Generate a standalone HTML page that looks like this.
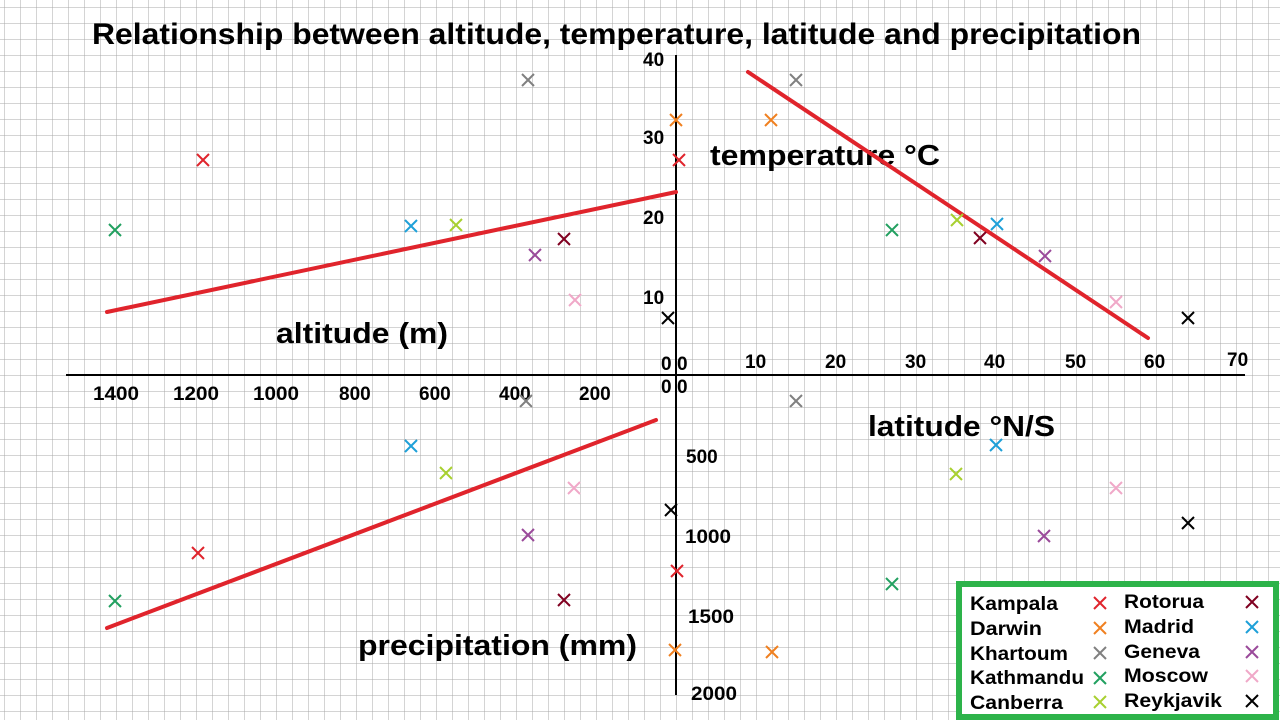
<!DOCTYPE html>
<html><head><meta charset="utf-8"><style>
html,body{margin:0;padding:0;background:#fff}
svg{display:block}
text{font-family:"Liberation Sans",Arial,sans-serif;font-weight:bold;fill:#000}
</style></head><body>
<svg width="1280" height="720" viewBox="0 0 1280 720" xmlns="http://www.w3.org/2000/svg">
<defs>
<pattern id="g" x="4" y="7" width="16" height="16" patternUnits="userSpaceOnUse">
<path d="M0 0H16M0 0V16" stroke="#a8a8a8" stroke-width="1" fill="none"/>
</pattern>
<g id="x"><path d="M-6 -6L6 6M6 -6L-6 6" stroke-width="2" fill="none"/></g>
</defs>
<rect width="1280" height="720" fill="url(#g)"/>
<text x="92" y="44" font-size="30" textLength="1049" lengthAdjust="spacingAndGlyphs">Relationship between altitude, temperature, latitude and precipitation</text>
<line x1="66" y1="375" x2="1245" y2="375" stroke="#000" stroke-width="2"/>
<line x1="676" y1="55" x2="676" y2="695" stroke="#000" stroke-width="2"/>
<g font-size="19">
<text x="643" y="66">40</text><text x="643" y="144">30</text><text x="643" y="224">20</text><text x="643" y="304">10</text>
<text x="661" y="370">0</text><text x="677" y="370">0</text>
<text x="745" y="368">10</text><text x="825" y="368">20</text><text x="905" y="368">30</text><text x="984" y="368">40</text><text x="1065" y="368">50</text><text x="1144" y="368">60</text><text x="1227" y="366">70</text>
<text x="93" y="400" textLength="46" lengthAdjust="spacingAndGlyphs">1400</text><text x="173" y="400" textLength="46" lengthAdjust="spacingAndGlyphs">1200</text><text x="253" y="400" textLength="46" lengthAdjust="spacingAndGlyphs">1000</text><text x="339" y="400">800</text><text x="419" y="400">600</text><text x="499" y="400">400</text><text x="579" y="400">200</text>
<text x="661" y="393">0</text><text x="677" y="393">0</text>
<text x="686" y="463">500</text><text x="685" y="543" textLength="46" lengthAdjust="spacingAndGlyphs">1000</text><text x="688" y="623" textLength="46" lengthAdjust="spacingAndGlyphs">1500</text><text x="691" y="700" textLength="46" lengthAdjust="spacingAndGlyphs">2000</text>
</g>
<g font-size="29">
<text x="710" y="165" textLength="230" lengthAdjust="spacingAndGlyphs">temperature °C</text>
<text x="276" y="343" textLength="172" lengthAdjust="spacingAndGlyphs">altitude (m)</text>
<text x="868" y="436" textLength="187" lengthAdjust="spacingAndGlyphs">latitude °N/S</text>
<text x="358" y="655" textLength="279" lengthAdjust="spacingAndGlyphs">precipitation (mm)</text>
</g>
<g stroke="#e0242c" stroke-width="4" stroke-linecap="round">
<line x1="107" y1="312" x2="676" y2="192"/>
<line x1="748" y1="72" x2="1148" y2="338"/>
<line x1="107" y1="628" x2="656" y2="420"/>
</g>
<g>
<use href="#x" x="203" y="160" stroke="#e0242c"/><use href="#x" x="115" y="230" stroke="#22a060"/><use href="#x" x="411" y="226" stroke="#1ea0d8"/><use href="#x" x="456" y="225" stroke="#a8d030"/><use href="#x" x="528" y="80" stroke="#808080"/><use href="#x" x="535" y="255" stroke="#9a4a9a"/><use href="#x" x="564" y="239" stroke="#800020"/><use href="#x" x="575" y="300" stroke="#f0a8c8"/><use href="#x" x="676" y="120" stroke="#f08020"/><use href="#x" x="679" y="160" stroke="#e0242c"/><use href="#x" x="668" y="318" stroke="#000"/>
<use href="#x" x="796" y="80" stroke="#808080"/><use href="#x" x="771" y="120" stroke="#f08020"/><use href="#x" x="892" y="230" stroke="#22a060"/><use href="#x" x="957" y="220" stroke="#a8d030"/><use href="#x" x="980" y="238" stroke="#800020"/><use href="#x" x="997" y="224" stroke="#1ea0d8"/><use href="#x" x="1045" y="256" stroke="#9a4a9a"/><use href="#x" x="1116" y="302" stroke="#f0a8c8"/><use href="#x" x="1188" y="318" stroke="#000"/>
<use href="#x" x="526" y="401" stroke="#808080"/><use href="#x" x="411" y="446" stroke="#1ea0d8"/><use href="#x" x="446" y="473" stroke="#a8d030"/><use href="#x" x="574" y="488" stroke="#f0a8c8"/><use href="#x" x="528" y="535" stroke="#9a4a9a"/><use href="#x" x="198" y="553" stroke="#e0242c"/><use href="#x" x="115" y="601" stroke="#22a060"/><use href="#x" x="564" y="600" stroke="#800020"/><use href="#x" x="671" y="510" stroke="#000"/><use href="#x" x="677" y="571" stroke="#e0242c"/><use href="#x" x="675" y="650" stroke="#f08020"/>
<use href="#x" x="796" y="401" stroke="#808080"/><use href="#x" x="996" y="445" stroke="#1ea0d8"/><use href="#x" x="956" y="474" stroke="#a8d030"/><use href="#x" x="1116" y="488" stroke="#f0a8c8"/><use href="#x" x="1044" y="536" stroke="#9a4a9a"/><use href="#x" x="1188" y="523" stroke="#000"/><use href="#x" x="892" y="584" stroke="#22a060"/><use href="#x" x="772" y="652" stroke="#f08020"/>
</g>
<rect x="959" y="584" width="317" height="133" fill="#fff" stroke="#2db34a" stroke-width="6"/>
<g font-size="19">
<text x="970" y="610" textLength="88" lengthAdjust="spacingAndGlyphs">Kampala</text><text x="970" y="635" textLength="72" lengthAdjust="spacingAndGlyphs">Darwin</text><text x="970" y="660" textLength="98" lengthAdjust="spacingAndGlyphs">Khartoum</text><text x="970" y="684" textLength="114" lengthAdjust="spacingAndGlyphs">Kathmandu</text><text x="970" y="709" textLength="93" lengthAdjust="spacingAndGlyphs">Canberra</text>
<text x="1124" y="608" textLength="80" lengthAdjust="spacingAndGlyphs">Rotorua</text><text x="1124" y="633" textLength="70" lengthAdjust="spacingAndGlyphs">Madrid</text><text x="1124" y="658" textLength="76" lengthAdjust="spacingAndGlyphs">Geneva</text><text x="1124" y="682" textLength="84" lengthAdjust="spacingAndGlyphs">Moscow</text><text x="1124" y="707" textLength="98" lengthAdjust="spacingAndGlyphs">Reykjavik</text>
</g>
<use href="#x" x="1100" y="603" stroke="#e0242c"/><use href="#x" x="1100" y="628" stroke="#f08020"/><use href="#x" x="1100" y="653" stroke="#808080"/><use href="#x" x="1100" y="678" stroke="#22a060"/><use href="#x" x="1100" y="702" stroke="#a8d030"/>
<use href="#x" x="1252" y="602" stroke="#800020"/><use href="#x" x="1252" y="627" stroke="#1ea0d8"/><use href="#x" x="1252" y="652" stroke="#9a4a9a"/><use href="#x" x="1252" y="676" stroke="#f0a8c8"/><use href="#x" x="1252" y="701" stroke="#000"/>
</svg>
</body></html>
